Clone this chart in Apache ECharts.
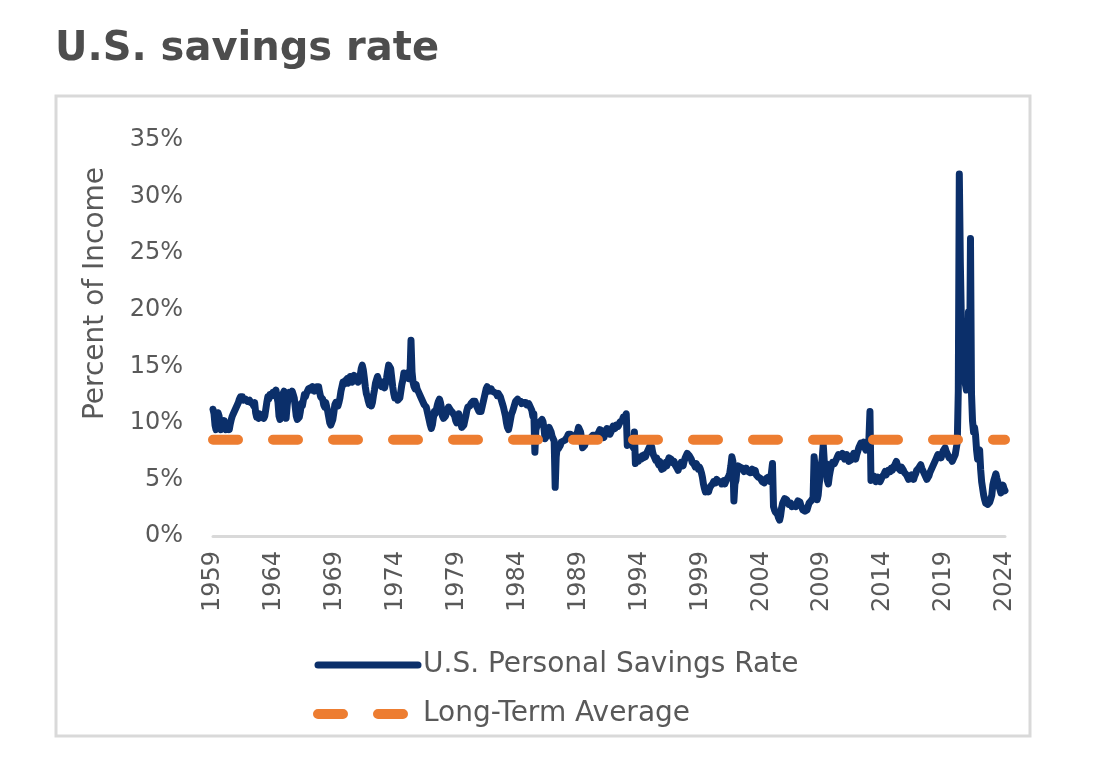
<!DOCTYPE html>
<html>
<head>
<meta charset="utf-8">
<title>U.S. savings rate</title>
<script src="https://cdn.jsdelivr.net/npm/echarts/dist/echarts.min.js"></script>
<style>
  html, body { margin: 0; padding: 0; background: #fff; }
  #chart { width: 1116px; height: 757px; }
</style>
</head>
<body>
<div id="chart"></div>
<script>
var startYear = 1959;
var longTermAverage = 8.5;
var seriesNames = ['U.S. Personal Savings Rate', 'Long-Term Average'];

// monthly personal savings rate (%), one row per year, Jan 1959 .. Jan 2024
var savingsRate = [
    11.2, 10.8, 9.8, 9.4, 10.3, 10.9, 10.6, 9.8, 9.4, 9.5, 9.7, 10.2,      // 1959
    9.8, 9.4, 9.3, 9.6, 9.4, 9.9, 10.3, 10.6, 10.8, 11.0, 11.2, 11.4,      // 1960
    11.6, 11.8, 12.1, 12.3, 12.2, 12.3, 12.0, 11.9, 12.1, 12.0, 11.9, 12.0,
    12.0, 11.8, 11.9, 11.7, 11.5, 11.8, 10.9, 10.5, 10.7, 10.4, 10.8, 10.6,
    10.5, 10.7, 10.4, 10.6, 11.2, 11.8, 12.3, 12.1, 12.5, 12.6, 12.4, 12.7,
    12.8, 12.6, 12.9, 12.3, 11.8, 10.6, 10.3, 11.2, 12.0, 12.6, 12.8, 12.5, // 1964
    10.4, 11.5, 12.3, 12.7, 12.8, 12.6, 12.8, 12.5, 12.2, 11.4, 10.6, 10.3,
    10.2, 10.5, 11.0, 11.7, 11.5, 12.0, 12.5, 12.3, 12.6, 12.8, 13.0, 12.9,
    13.1, 12.9, 13.2, 13.1, 12.8, 13.0, 13.2, 13.1, 13.2, 12.7, 12.3, 12.4,
    12.1, 11.6, 11.4, 11.8, 11.4, 11.0, 10.5, 10.0, 9.8, 9.7, 10.3, 10.9,
    11.6, 11.8, 11.9, 11.5, 11.8, 12.2, 12.8, 13.2, 13.6, 13.4, 13.7, 13.8, // 1969
    13.9, 13.5, 13.8, 14.1, 14.0, 13.6, 13.8, 14.2, 14.0, 13.7, 13.9, 13.6,
    13.8, 14.2, 14.8, 15.1, 14.7, 14.0, 13.2, 12.6, 12.3, 11.9, 11.6, 11.8,
    11.5, 11.8, 12.4, 12.9, 13.5, 13.8, 14.1, 13.8, 13.4, 13.3, 13.2, 13.6,
    13.3, 13.1, 13.5, 14.0, 14.6, 15.1, 15.2, 14.8, 14.0, 13.2, 12.6, 12.2,
    12.1, 12.3, 12.0, 12.1, 12.2, 12.8, 13.4, 13.8, 14.4, 14.2, 14.0, 14.4, // 1974
    14.2, 13.9, 14.3, 17.3, 14.5, 13.6, 13.2, 13.0, 13.4, 13.0, 12.8, 12.6,
    12.4, 12.2, 12.0, 11.8, 11.6, 11.7, 11.4, 11.0, 10.6, 10.2, 9.8, 9.5,
    9.8, 10.4, 11.0, 10.8, 11.2, 11.6, 11.9, 12.1, 11.8, 11.3, 10.6, 10.4,
    10.3, 10.6, 10.9, 11.2, 11.4, 11.3, 11.1, 11.0, 10.9, 10.8, 10.6, 10.2,
    10.0, 10.6, 10.8, 10.4, 10.0, 9.6, 9.5, 9.8, 10.2, 10.6, 11.1, 11.4,    // 1979
    11.3, 11.5, 11.7, 11.8, 11.9, 11.8, 11.9, 11.6, 11.4, 11.2, 11.0, 11.1,
    11.0, 11.4, 11.8, 12.2, 12.6, 13.0, 13.2, 13.1, 12.8, 12.9, 13.0, 12.8,
    12.9, 12.7, 12.8, 12.6, 12.4, 12.6, 12.5, 12.3, 12.0, 11.7, 11.4, 11.0,
    10.6, 10.0, 9.6, 9.4, 9.8, 10.3, 10.8, 11.0, 11.3, 11.6, 11.9, 12.0,
    12.1, 11.9, 11.8, 11.9, 11.7, 11.6, 11.8, 11.9, 11.8, 11.6, 11.7, 11.7, // 1984
    11.6, 11.3, 11.1, 10.6, 10.8, 7.4, 9.4, 9.7, 9.6, 9.9, 10.1, 10.2,
    10.3, 10.1, 9.5, 8.6, 8.5, 8.9, 9.3, 9.6, 9.5, 9.2, 8.8, 8.6,
    8.4, 4.3, 7.0, 7.9, 7.7, 7.8, 8.0, 8.3, 8.2, 8.4, 8.5, 8.5,
    8.6, 8.8, 9.0, 9.1, 9.0, 8.9, 8.8, 8.7, 8.8, 8.9, 9.0, 9.2,
    9.6, 9.5, 9.2, 8.6, 7.8, 7.7, 8.0, 8.3, 8.4, 8.5, 8.6, 8.5,             // 1989
    8.7, 8.8, 8.9, 9.0, 8.9, 8.7, 8.8, 9.0, 9.2, 9.4, 9.5, 9.3,
    8.9, 8.7, 9.0, 9.3, 9.5, 9.3, 9.2, 9.0, 9.2, 9.5, 9.7, 9.6,
    9.5, 9.8, 9.9, 9.7, 9.9, 10.1, 10.0, 10.2, 10.5, 10.3, 10.6, 10.8,
    8.0, 8.3, 8.1, 8.4, 8.2, 8.0, 7.8, 9.2, 6.4, 6.5, 6.8, 6.6,
    6.7, 7.0, 6.8, 7.1, 6.9, 7.2, 7.0, 7.3, 7.5, 7.7, 7.9, 7.6,             // 1994
    7.9, 7.4, 7.1, 6.9, 6.7, 6.9, 6.5, 6.3, 6.6, 6.1, 5.9, 5.8,
    6.0, 6.3, 6.5, 6.2, 6.6, 6.9, 7.0, 6.8, 6.5, 6.4, 6.6, 6.3,
    6.2, 6.0, 5.8, 6.1, 6.3, 6.5, 6.4, 6.2, 6.6, 6.9, 7.1, 7.3,
    7.3, 7.1, 7.2, 6.8, 6.5, 6.6, 6.3, 6.1, 6.4, 6.2, 5.9, 6.1,
    5.9, 5.6, 5.2, 4.6, 4.2, 3.9, 3.8, 4.1, 3.9, 4.2, 4.4, 4.5,             // 1999
    4.6, 4.8, 4.9, 4.7, 5.0, 4.9, 4.8, 4.7, 4.8, 4.6, 4.7, 4.9,
    4.6, 4.8, 5.0, 5.1, 5.3, 5.6, 6.2, 7.0, 6.6, 3.1, 4.6, 4.9,
    5.8, 6.2, 6.3, 6.1, 6.2, 6.0, 5.9, 5.7, 5.8, 6.0, 5.9, 5.7,
    5.8, 5.6, 5.7, 5.9, 5.8, 5.6, 5.8, 5.4, 5.3, 5.2, 5.3, 5.1,
    5.0, 4.8, 4.9, 4.7, 4.9, 5.1, 5.0, 5.2, 5.0, 4.8, 4.9, 6.4,             // 2004
    2.6, 2.3, 2.1, 2.0, 1.9, 1.6, 1.4, 1.8, 2.5, 2.9, 3.1, 3.3,
    3.4, 3.2, 3.0, 2.8, 2.7, 2.9, 2.6, 2.5, 2.7, 2.8, 2.6, 2.9,
    3.1, 3.2, 3.0, 2.7, 2.5, 2.3, 2.4, 2.2, 2.1, 2.3, 2.6, 2.9,
    2.9, 3.1, 3.0, 3.4, 7.0, 6.1, 4.3, 3.2, 3.6, 4.6, 5.3, 6.2,
    6.9, 8.1, 6.6, 6.0, 6.4, 4.9, 4.6, 5.3, 5.8, 6.2, 6.5, 6.6,             // 2009
    6.4, 6.6, 6.8, 7.0, 7.2, 7.0, 6.9, 7.1, 7.3, 7.0, 6.8, 6.9,
    7.2, 7.0, 6.6, 6.5, 6.7, 6.9, 7.1, 7.3, 7.0, 6.8, 7.2, 7.5,
    7.8, 8.0, 8.2, 7.9, 8.1, 8.3, 7.8, 7.6, 7.9, 8.2, 8.6, 11.0,
    4.9, 5.2, 5.0, 5.3, 5.1, 4.8, 4.9, 5.2, 5.1, 4.8, 5.0, 5.2,
    5.3, 5.5, 5.7, 5.4, 5.6, 5.8, 5.9, 5.7, 6.0, 5.8, 5.9, 6.2,             // 2014
    6.4, 6.6, 6.3, 6.0, 5.9, 5.8, 6.1, 6.0, 5.8, 5.6, 5.5, 5.4,
    5.3, 5.0, 4.9, 5.1, 5.4, 5.2, 5.0, 5.3, 5.5, 5.8, 5.9, 6.0,
    6.1, 6.3, 6.0, 5.8, 5.6, 5.4, 5.2, 5.0, 5.1, 5.3, 5.6, 5.8,
    5.9, 6.2, 6.4, 6.6, 6.8, 7.0, 7.2, 7.3, 7.1, 6.9, 7.2, 7.5,
    7.6, 7.8, 7.5, 7.3, 7.1, 6.9, 7.0, 6.8, 6.6, 6.8, 7.0, 7.2,             // 2019
    7.3, 8.3, 12.8, 32.0, 24.2, 19.2, 18.0, 14.6, 14.2, 13.4, 12.9, 13.5,
    19.8, 13.4, 26.3, 12.6, 10.2, 9.2, 9.6, 8.9, 7.6, 6.8, 7.4, 7.6,
    5.9, 4.8, 4.2, 3.6, 3.2, 2.9, 3.0, 2.8, 2.7, 3.0, 3.3, 3.6,
    4.5, 4.9, 5.2, 5.5, 5.1, 5.0, 4.4, 4.1, 3.8, 4.3, 4.5, 4.2,
    4.0                                                                     // 2024
];

var months = [];
for (var i = 0; i < savingsRate.length; i++) {
    var m = (i % 12) + 1;
    months.push((startYear + Math.floor(i / 12)) + '-' + (m < 10 ? '0' + m : m));
}

var font = 'DejaVu Sans';
var textColor = '#595959';

var chartDom = document.getElementById('chart');
var myChart = echarts.init(chartDom);
var option;

option = {
    animation: false,
    backgroundColor: '#ffffff',
    title: {
        text: 'U.S. savings rate',
        left: 50,
        top: 25,
        textStyle: {
            fontFamily: font,
            fontSize: 40,
            fontWeight: 'bold',
            color: '#4d4d4d'
        }
    },
    graphic: [
        {
            type: 'rect',
            shape: { x: 56, y: 96, width: 974, height: 640 },
            style: { fill: 'none', stroke: '#d9d9d9', lineWidth: 3 },
            silent: true
        }
    ],
    legend: {
        orient: 'vertical',
        left: 313,
        top: 650,
        padding: 0,
        itemWidth: 100,
        itemHeight: 14,
        itemGap: 19,
        data: seriesNames,
        itemStyle: { opacity: 0 },
        lineStyle: { width: 'inherit', type: 'inherit', cap: 'inherit' },
        textStyle: {
            fontFamily: font,
            fontSize: 28,
            color: textColor,
            lineHeight: 30
        }
    },
    grid: {
        left: 213,
        right: 111,
        top: 140,
        bottom: 221
    },
    xAxis: {
        type: 'category',
        data: months,
        boundaryGap: false,
        axisLine: { lineStyle: { color: '#d9d9d9', width: 3 } },
        axisTick: { show: false },
        splitLine: { show: false },
        axisLabel: {
            interval: function (index) {
                return index % 60 === 0;
            },
            formatter: function (value) {
                return value.slice(0, 4);
            },
            rotate: 90,
            margin: 15,
            fontFamily: font,
            fontSize: 24,
            color: textColor
        }
    },
    yAxis: {
        type: 'value',
        min: 0,
        max: 35,
        interval: 5,
        name: 'Percent of Income',
        nameLocation: 'middle',
        nameGap: 103,
        nameTextStyle: {
            fontFamily: font,
            fontSize: 28,
            color: textColor,
            padding: [0, 0, 0, 89]
        },
        axisLine: { show: false },
        axisTick: { show: false },
        splitLine: { show: false },
        axisLabel: {
            formatter: '{value}%',
            margin: 30,
            fontFamily: font,
            fontSize: 24,
            color: textColor
        }
    },
    series: [
        {
            name: seriesNames[0],
            type: 'line',
            data: savingsRate,
            symbol: 'none',
            showSymbol: false,
            itemStyle: { color: '#0b2f6a' },
            lineStyle: { color: '#0b2f6a', width: 7, join: 'round', cap: 'round' }
        },
        {
            name: seriesNames[1],
            type: 'line',
            data: [[months[0], longTermAverage], [months[months.length - 1], longTermAverage]],
            symbol: 'none',
            showSymbol: false,
            itemStyle: { color: '#ed7d31' },
            lineStyle: { color: '#ed7d31', width: 10, type: [25, 35], cap: 'round' }
        }
    ]
};

option && myChart.setOption(option);
</script>
</body>
</html>
